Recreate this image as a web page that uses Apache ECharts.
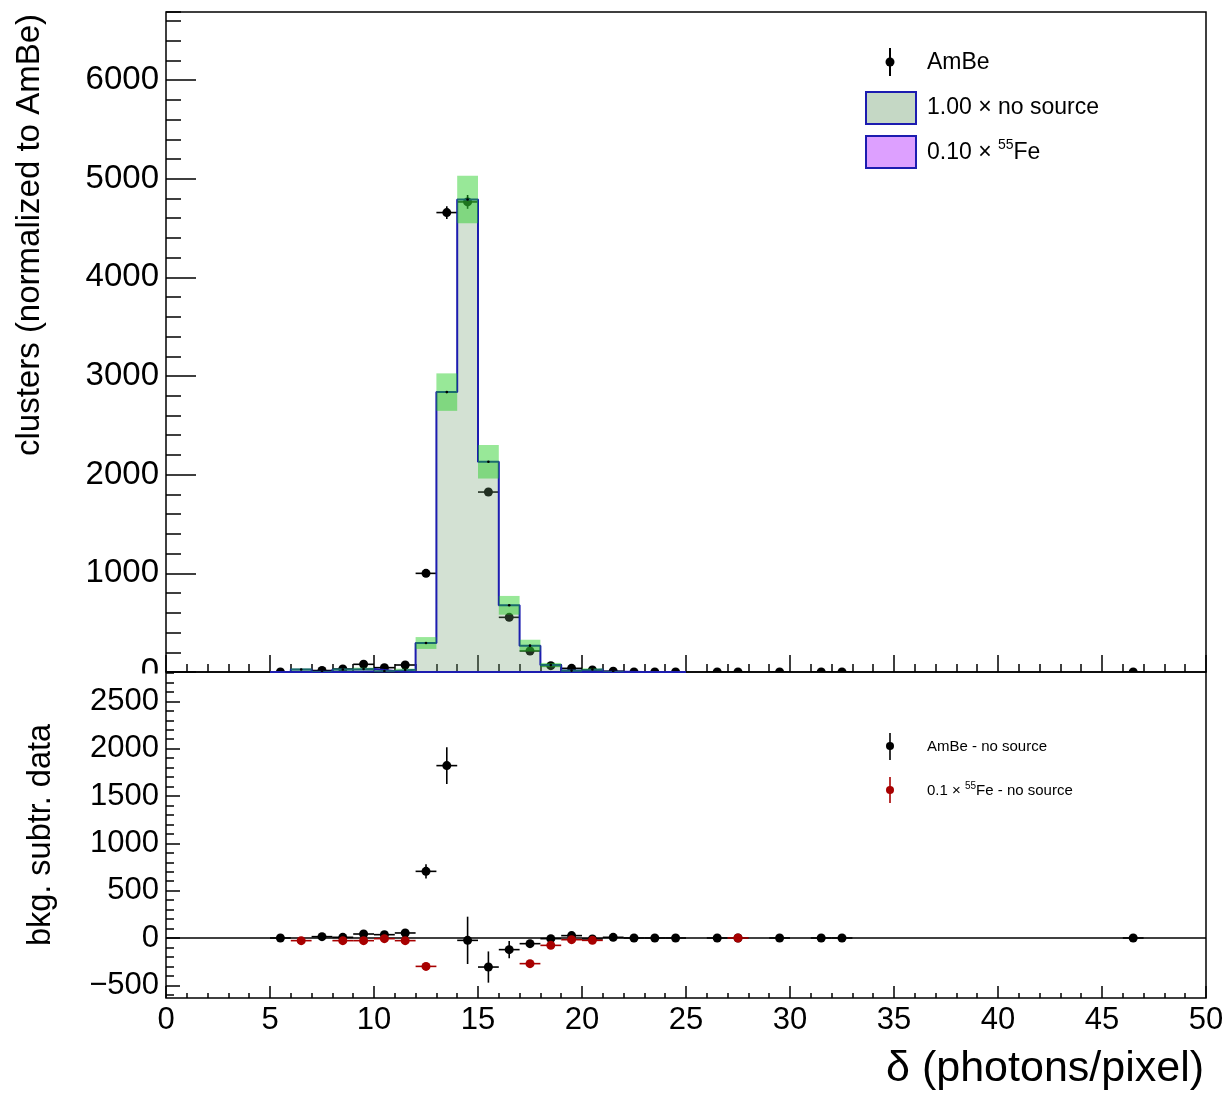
<!DOCTYPE html>
<html><head><meta charset="utf-8">
<script src="https://cdn.jsdelivr.net/npm/echarts@6/dist/echarts.min.js"></script>
<style>html,body{margin:0;padding:0;background:#fff}#c{width:1228px;height:1097px}</style>
</head><body><div id="c"></div><script>
const FONT = '"Liberation Sans", Arial, Helvetica, sans-serif';

// ---- top panel: histogram bins (bin width 1) ----
const binCenters  = [5.5, 6.5, 7.5, 8.5, 9.5, 10.5, 11.5, 12.5, 13.5, 14.5, 15.5, 16.5, 17.5, 18.5, 19.5, 20.5, 21.5, 22.5, 23.5, 24.5];
const noSource    = [0, 25, 3, 25, 30, 10, 22, 294, 2837, 4789, 2131, 676, 267, 70, 14, 25, 3, 0, 0, 0];
const noSourceErr = [0, 12, 4, 12, 14, 8, 12, 60, 190, 240, 170, 95, 60, 22, 10, 12, 3, 0, 0, 0];
const fe55Scaled  = [0, 0, 0, 0, 6, 4, 0, 0, 0, 0, 0, 0, 0, 0, 0, 0, 0, 0, 0, 0];

// ---- top panel: AmBe data points ----
const ambeX   = [5.5, 7.5, 8.5, 9.5, 10.5, 11.5, 12.5, 13.5, 14.5, 15.5, 16.5, 17.5, 18.5, 19.5, 20.5, 21.5, 22.5, 23.5, 24.5, 26.5, 27.5, 29.5, 31.5, 32.5, 46.5];
const ambeY   = [0, 15, 30, 78, 44, 71, 1000, 4657, 4765, 1824, 554, 213, 64, 37, 20, 8, 0, 0, 0, 0, 0, 0, 0, 0, 0];
const ambeErr = [0, 8, 10, 15, 12, 15, 30, 65, 70, 40, 22, 15, 8, 6, 5, 3, 0, 0, 0, 0, 0, 0, 0, 0, 0];

// ---- bottom panel: background-subtracted ----
const diffAmbeX   = [5.5, 7.5, 8.5, 9.5, 10.5, 11.5, 12.5, 13.5, 14.5, 15.5, 16.5, 17.5, 18.5, 19.5, 20.5, 21.5, 22.5, 23.5, 24.5, 26.5, 27.5, 29.5, 31.5, 32.5, 46.5];
const diffAmbeY   = [0, 14, 7, 42, 35, 53, 704, 1821, -25, -307, -123, -60, -7, 25, -10, 7, 0, 0, 0, 0, 0, 0, 0, 0, 0];
const diffAmbeErr = [5, 12, 14, 18, 14, 18, 75, 195, 250, 165, 90, 40, 22, 15, 15, 5, 0, 0, 0, 0, 0, 0, 0, 0, 0];
const diffFeX   = [6.5, 8.5, 9.5, 10.5, 11.5, 12.5, 17.5, 18.5, 19.5, 20.5, 27.5];
const diffFeY   = [-28, -28, -28, -7, -28, -300, -271, -78, -18, -25, 0];
const diffFeErr = [10, 10, 12, 8, 10, 25, 25, 15, 8, 10, 0];

// ---- tick labels ----
const xTickLabels = [0, 5, 10, 15, 20, 25, 30, 35, 40, 45, 50];
const topYTickLabels = [0, 1000, 2000, 3000, 4000, 5000, 6000];
const bottomYTickLabels = [-500, 0, 500, 1000, 1500, 2000, 2500];

const BLUE = '#1c1cb0', RED = '#a80000';
const bottomMinor = [];
for (let v = -600; v <= 2800; v += 100) bottomMinor.push(v);

function stepData(vals) {
  const d = binCenters.map((c, i) => [c - 0.5, vals[i]]);
  d.push([binCenters[binCenters.length - 1] + 0.5, vals[vals.length - 1]]);
  return d;
}
function triples(xs, ys, es) { return xs.map((x, i) => [x, ys[i], es[i]]); }

function errPoint(color, r) {
  return function (params, api) {
    const x = api.value(0), y = api.value(1), e = api.value(2);
    const c = api.coord([x, y]), l = api.coord([x - 0.5, y]), rr = api.coord([x + 0.5, y]);
    const t = api.coord([x, y + e]), b = api.coord([x, y - e]);
    const ls = { stroke: color, lineWidth: 1.6 };
    const ch = [{ type: 'line', shape: { x1: l[0], y1: c[1], x2: rr[0], y2: c[1] }, style: ls }];
    if (e > 0) ch.push({ type: 'line', shape: { x1: c[0], y1: t[1], x2: c[0], y2: b[1] }, style: ls });
    ch.push({ type: 'circle', shape: { cx: c[0], cy: c[1], r: r }, style: { fill: color } });
    return { type: 'group', children: ch };
  };
}
function bandRender(params, api) {
  const x = api.value(0), v = api.value(1), e = api.value(2);
  const ch = [];
  if (e > 0) {
    const p1 = api.coord([x - 0.5, v + e]), p2 = api.coord([x + 0.5, v - e]);
    ch.push({ type: 'rect', shape: { x: p1[0], y: p1[1], width: p2[0] - p1[0], height: p2[1] - p1[1] }, style: { fill: 'rgba(26,204,26,0.45)' } });
  }
  if (v > 0) {
    const c = api.coord([x, v]);
    ch.push({ type: 'circle', shape: { cx: c[0], cy: c[1], r: 1.3 }, style: { fill: '#000' } });
  }
  return { type: 'group', children: ch };
}

const tickStyle = { color: '#000', width: 1.5 };
function xAx(grid, interval, len, labels) {
  return {
    gridIndex: grid, type: 'value', min: 0, max: 50, interval: interval, position: 'bottom',
    axisLine: { show: false, onZero: false },
    axisTick: { show: true, inside: true, length: len, lineStyle: tickStyle },
    axisLabel: labels ? { show: true, fontSize: 31, fontFamily: FONT, color: '#000', margin: 7,
      customValues: xTickLabels, formatter: v => String(v) } : { show: false },
    splitLine: { show: false }
  };
}

const chart = echarts.init(document.getElementById('c'));
chart.setOption({
  animation: false,
  backgroundColor: '#fff',
  grid: [
    { left: 166, top: 12, width: 1040, height: 660, show: true, borderColor: '#000', borderWidth: 1.5, backgroundColor: 'transparent' },
    { left: 166, top: 672, width: 1040, height: 326, show: true, borderColor: '#000', borderWidth: 1.5, backgroundColor: 'transparent' }
  ],
  xAxis: [
    xAx(0, 1, 8, false), xAx(0, 5, 17, false),
    xAx(1, 1, 5, false), xAx(1, 5, 12, true)
  ],
  yAxis: [
    { gridIndex: 0, type: 'value', min: 0, max: 6690, position: 'left',
      axisLine: { show: false, onZero: false },
      axisTick: { show: true, inside: true, length: 30, lineStyle: tickStyle, customValues: topYTickLabels },
      axisLabel: { show: true, fontSize: 33, fontFamily: FONT, color: '#000', margin: 7, customValues: topYTickLabels,
        formatter: v => String(v) },
      splitLine: { show: false } },
    { gridIndex: 0, type: 'value', min: 0, max: 6690, interval: 200, position: 'left',
      axisLine: { show: false, onZero: false },
      axisTick: { show: true, inside: true, length: 15, lineStyle: tickStyle },
      axisLabel: { show: false }, splitLine: { show: false } },
    { gridIndex: 1, type: 'value', min: -634, max: 2810, position: 'left',
      axisLine: { show: false, onZero: false },
      axisTick: { show: true, inside: true, length: 14, lineStyle: tickStyle, customValues: bottomYTickLabels },
      axisLabel: { show: true, fontSize: 31, fontFamily: FONT, color: '#000', margin: 7, customValues: bottomYTickLabels,
        formatter: v => (v < 0 ? '\u2212' + Math.abs(v) : String(v)) },
      splitLine: { show: false } },
    { gridIndex: 1, type: 'value', min: -634, max: 2810, position: 'left',
      axisLine: { show: false, onZero: false },
      axisTick: { show: true, inside: true, length: 8, lineStyle: tickStyle, customValues: bottomMinor },
      axisLabel: { show: false }, splitLine: { show: false } }
  ],
  series: [
    { name: 'AmBe', type: 'custom', xAxisIndex: 0, yAxisIndex: 0, z: 2, clip: true,
      encode: { x: 0, y: 1 }, data: triples(ambeX, ambeY, ambeErr), renderItem: errPoint('#000', 4.5) },
    { name: '0.10 x 55Fe', type: 'line', xAxisIndex: 0, yAxisIndex: 0, z: 3, step: 'end', symbol: 'none', clip: true,
      data: stepData(fe55Scaled), lineStyle: { color: BLUE, width: 2 }, areaStyle: { color: '#dda0ff', opacity: 1 } },
    { name: '1.00 x no source', type: 'line', xAxisIndex: 0, yAxisIndex: 0, z: 3, step: 'end', symbol: 'none', clip: true,
      data: stepData(noSource), lineStyle: { color: BLUE, width: 2 }, areaStyle: { color: 'rgba(110,155,110,0.3)', opacity: 1 } },
    { name: 'band', type: 'custom', xAxisIndex: 0, yAxisIndex: 0, z: 4, clip: true,
      encode: { x: 0, y: 1 }, data: triples(binCenters, noSource, noSourceErr), renderItem: bandRender },
    { name: 'zero', type: 'line', xAxisIndex: 2, yAxisIndex: 2, z: 1, symbol: 'none',
      data: [[0, 0], [50, 0]], lineStyle: { color: '#000', width: 1.5 } },
    { name: 'AmBe - no source', type: 'custom', xAxisIndex: 2, yAxisIndex: 2, z: 2, clip: true,
      encode: { x: 0, y: 1 }, data: triples(diffAmbeX, diffAmbeY, diffAmbeErr), renderItem: errPoint('#000', 4.5) },
    { name: '0.1 x 55Fe - no source', type: 'custom', xAxisIndex: 2, yAxisIndex: 2, z: 3, clip: true,
      encode: { x: 0, y: 1 }, data: triples(diffFeX, diffFeY, diffFeErr), renderItem: errPoint(RED, 4.5) }
  ],
  graphic: [
    { type: 'rect', z: 100, shape: { x: 90, y: 673.5, width: 74, height: 13 }, style: { fill: '#fff' } },
    // axis titles
    { type: 'text', z: 100, x: 30, y: 235, rotation: Math.PI / 2,
      style: { text: 'clusters (normalized to AmBe)', fontSize: 33, fontFamily: FONT, fill: '#000', align: 'center', verticalAlign: 'middle' } },
    { type: 'text', z: 100, x: 41, y: 835, rotation: Math.PI / 2,
      style: { text: 'bkg. subtr. data', fontSize: 32.5, fontFamily: FONT, fill: '#000', align: 'center', verticalAlign: 'middle' } },
    { type: 'text', z: 100, x: 1204, y: 1069,
      style: { text: '\u03b4 (photons/pixel)', fontSize: 43, fontFamily: FONT, fill: '#000', align: 'right', verticalAlign: 'middle' } },
    // top legend
    { type: 'line', z: 100, shape: { x1: 890, y1: 48, x2: 890, y2: 76 }, style: { stroke: '#000', lineWidth: 2 } },
    { type: 'circle', z: 100, shape: { cx: 890, cy: 62, r: 4.5 }, style: { fill: '#000' } },
    { type: 'text', z: 100, x: 927, y: 63, style: { text: 'AmBe', fontSize: 23, fontFamily: FONT, fill: '#000', verticalAlign: 'middle' } },
    { type: 'rect', z: 100, shape: { x: 866, y: 92, width: 50, height: 32 }, style: { fill: '#c5d8c5', stroke: BLUE, lineWidth: 2 } },
    { type: 'text', z: 100, x: 927, y: 108, style: { text: '1.00 \u00d7 no source', fontSize: 23, fontFamily: FONT, fill: '#000', verticalAlign: 'middle' } },
    { type: 'rect', z: 100, shape: { x: 866, y: 136, width: 50, height: 32 }, style: { fill: '#dda0ff', stroke: BLUE, lineWidth: 2 } },
    { type: 'text', z: 100, x: 927, y: 153, style: { text: '0.10 \u00d7 {sup|55}Fe', fontSize: 23, lineHeight: 30, fontFamily: FONT, fill: '#000', verticalAlign: 'middle',
      rich: { sup: { fontSize: 14, lineHeight: 14, verticalAlign: 'top', fontFamily: FONT, fill: '#000' } } } },
    // bottom legend
    { type: 'line', z: 100, shape: { x1: 890, y1: 733, x2: 890, y2: 760 }, style: { stroke: '#000', lineWidth: 1.6 } },
    { type: 'circle', z: 100, shape: { cx: 890, cy: 746, r: 4 }, style: { fill: '#000' } },
    { type: 'text', z: 100, x: 927, y: 747, style: { text: 'AmBe - no source', fontSize: 15, fontFamily: FONT, fill: '#000', verticalAlign: 'middle' } },
    { type: 'line', z: 100, shape: { x1: 890, y1: 777, x2: 890, y2: 803 }, style: { stroke: RED, lineWidth: 1.6 } },
    { type: 'circle', z: 100, shape: { cx: 890, cy: 790, r: 4 }, style: { fill: RED } },
    { type: 'text', z: 100, x: 927, y: 791, style: { text: '0.1 \u00d7 {sup|55}Fe - no source', fontSize: 15, lineHeight: 20, fontFamily: FONT, fill: '#000', verticalAlign: 'middle',
      rich: { sup: { fontSize: 10, lineHeight: 10, verticalAlign: 'top', fontFamily: FONT, fill: '#000' } } } }
  ]
});
</script></body></html>
